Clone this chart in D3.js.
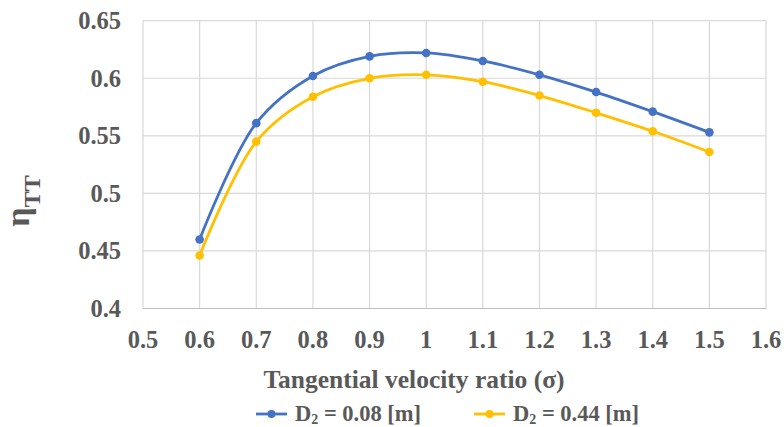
<!DOCTYPE html>
<html>
<head>
<meta charset="utf-8">
<script src="https://cdn.jsdelivr.net/npm/d3@7"></script>
<style>
  body { margin: 0; background: #fff; }
  svg { display: block; }
  text { font-family: 'Liberation Serif', 'Times New Roman', Times, 'DejaVu Serif', serif; font-weight: bold; }
</style>
</head>
<body>
<svg id="chart" width="784" height="427"></svg>
<script>
// chart data
const sigma = [0.6, 0.7, 0.8, 0.9, 1.0, 1.1, 1.2, 1.3, 1.4, 1.5];
const etaSmall = [0.460, 0.561, 0.602, 0.619, 0.622, 0.615, 0.603, 0.588, 0.571, 0.553];
const etaLarge = [0.446, 0.545, 0.584, 0.600, 0.603, 0.597, 0.585, 0.570, 0.554, 0.536];
const seriesNames = ['0.08', '0.44'];
const xTicks = [0.5, 0.6, 0.7, 0.8, 0.9, 1.0, 1.1, 1.2, 1.3, 1.4, 1.5, 1.6];
const yTicks = [0.4, 0.45, 0.5, 0.55, 0.6, 0.65];

const colors = ['#4472C4', '#FFC000'];
const textColor = '#595959';

const svg = d3.select('#chart');

// plot area
const x = d3.scaleLinear().domain([0.5, 1.6]).range([143, 766]);
const y = d3.scaleLinear().domain([0.4, 0.65]).range([308.5, 20.7]);

// gridlines
svg.append('g')
  .selectAll('line')
  .data(yTicks)
  .join('line')
  .attr('x1', x(0.5)).attr('x2', x(1.6))
  .attr('y1', d => y(d)).attr('y2', d => y(d))
  .attr('stroke', '#d9d9d9').attr('stroke-width', 1.2);

svg.append('g')
  .selectAll('line')
  .data(xTicks)
  .join('line')
  .attr('x1', d => x(d)).attr('x2', d => x(d))
  .attr('y1', y(0.4)).attr('y2', y(0.65))
  .attr('stroke', '#d9d9d9').attr('stroke-width', 1.2);

// bottom axis line
svg.append('line')
  .attr('x1', x(0.5)).attr('x2', x(1.6))
  .attr('y1', y(0.4)).attr('y2', y(0.4))
  .attr('stroke', '#bfbfbf').attr('stroke-width', 1.2);

// tick labels
svg.append('g')
  .selectAll('text')
  .data(yTicks)
  .join('text')
  .attr('x', 121)
  .attr('y', d => y(d) + 8.5)
  .attr('text-anchor', 'end')
  .style('font-size', '24.5px')
  .attr('fill', textColor)
  .text(d => String(+d.toFixed(2)));

svg.append('g')
  .selectAll('text')
  .data(xTicks)
  .join('text')
  .attr('x', d => x(d))
  .attr('y', 348)
  .attr('text-anchor', 'middle')
  .style('font-size', '24.5px')
  .attr('fill', textColor)
  .text(d => String(+d.toFixed(1)));

// axis titles
svg.append('text')
  .attr('x', 414)
  .attr('y', 388)
  .attr('text-anchor', 'middle')
  .style('font-size', '25.5px')
  .attr('fill', textColor)
  .text('Tangential velocity ratio (σ)');

const yTitle = svg.append('text')
  .attr('transform', 'translate(29,201) rotate(-90)')
  .attr('text-anchor', 'middle')
  .attr('fill', textColor);
yTitle.append('tspan').style('font-size', '34px').text('η');
yTitle.append('tspan').style('font-size', '24px').attr('dy', 11).text('TT');

// series lines
const line = d3.line()
  .x(d => x(d[0]))
  .y(d => y(d[1]))
  .curve(d3.curveCatmullRom.alpha(0.5));

[etaSmall, etaLarge].forEach((vals, i) => {
  const pts = sigma.map((s, j) => [s, vals[j]]);
  svg.append('path')
    .datum(pts)
    .attr('d', line)
    .attr('fill', 'none')
    .attr('stroke', colors[i])
    .attr('stroke-width', 2.8)
    .attr('stroke-linecap', 'round');
  svg.append('g')
    .selectAll('circle')
    .data(pts)
    .join('circle')
    .attr('cx', d => x(d[0]))
    .attr('cy', d => y(d[1]))
    .attr('r', 4.3)
    .attr('fill', colors[i]);
});

// legend
const legendX = [256, 474];
seriesNames.forEach((name, i) => {
  const g = svg.append('g').attr('transform', `translate(${legendX[i]},414)`);
  g.append('line')
    .attr('x1', 0).attr('x2', 31)
    .attr('stroke', colors[i]).attr('stroke-width', 2.8);
  g.append('circle').attr('cx', 15.5).attr('r', 4).attr('fill', colors[i]);
  const t = g.append('text')
    .attr('x', 39)
    .attr('y', 7)
    .style('font-size', '22.5px')
    .attr('fill', textColor);
  t.append('tspan').text('D');
  t.append('tspan').style('font-size', '14px').attr('dy', 3).text('2');
  t.append('tspan').attr('dy', -3).text(` = ${name} [m]`);
});
</script>
</body>
</html>
